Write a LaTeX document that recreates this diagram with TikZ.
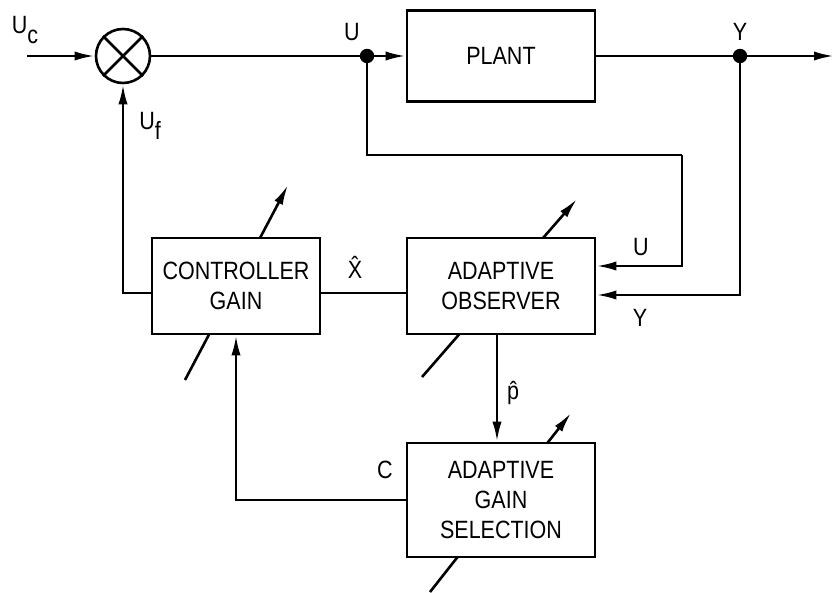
\documentclass[tikz,border=0pt]{standalone}
\usepackage{fontspec}
\setmainfont{Liberation Sans}[FakeStretch=0.86]
\usetikzlibrary{arrows.meta,calc}
\tikzset{
  wire/.style={black,line width=1.3pt},
  flow/.style={wire,-{Latex[length=10pt,width=4.6pt]}},
  tune/.style={flow},
  gate/.style={draw=black,line width=1.3pt,fill=white,align=center,inner sep=2pt,
               font=\fontsize{12.5}{15}\selectfont},
  summer/.style={draw=black,line width=1.3pt,circle,minimum size=27pt,inner sep=0pt},
  lab/.style={font=\fontsize{12.5}{14}\selectfont,inner sep=1pt},
}

\begin{document}
\begin{tikzpicture}[x=0.5pt,y=-0.5pt]
  \path[use as bounding box] (0,0) rectangle (834,593);

  % adjustable-gain arrows, drawn first so the blocks cover them
  \draw[tune] (185,380) -- (288,185);
  \draw[tune] (422,377) -- (577,199);
  \draw[tune] (430,592) -- (571,413);

  \node[summer] (sum) at (123,56) {};
  \draw[wire] (sum.north west) -- (sum.south east) (sum.north east) -- (sum.south west);
  \node[gate,minimum width=94pt,minimum height=45.5pt] (plant) at (501,56) {PLANT};
  \node[gate,minimum width=84pt,minimum height=48pt] (ctrl) at (236,286) {CONTROLLER\\GAIN};
  \node[gate,minimum width=94pt,minimum height=48pt] (obs) at (501,286) {ADAPTIVE\\OBSERVER};
  \node[gate,minimum width=94pt,minimum height=57pt] (sel) at (501,500) {ADAPTIVE\\GAIN\\SELECTION};

  \coordinate (uin) at (27,56);
  \coordinate (ujct) at (367,56);
  \coordinate (yjct) at (740,56);
  \coordinate (yout) at (834,56);
  \coordinate (ubend) at (682,155);

  % forward path
  \draw[flow] (uin) -- (sum);
  \draw[wire] (sum) -- (ujct);
  \draw[flow] (ujct) -- (plant);
  \draw[wire] (plant) -- (yjct);
  \draw[flow] (yjct) -- (yout);
  \fill (ujct) circle[radius=3.6pt];
  \fill (yjct) circle[radius=3.6pt];

  % measurements into the observer
  \draw[wire] (ujct) |- (ubend);
  \draw[flow] (ubend) |- ($(obs.east)+(0,-20)$);
  \draw[flow] (yjct) |- ($(obs.east)+(0,9)$);

  % feedback
  \draw[wire] ($(obs.west)+(0,7)$) -- ($(ctrl.east)+(0,7)$);
  \draw[flow] ($(ctrl.west)+(0,7)$) -| (sum.south);
  \draw[flow] ($(obs.south)+(-4,0)$) -- ($(sel.north)+(-4,0)$);
  \draw[flow] (sel.west) -| (ctrl.south);

  % signal labels
  \node[lab] (uc) at (25,30) {U\raisebox{-5pt}{c}};
  \node[lab] (uf) at (150,126) {U\raisebox{-5pt}{f}};
  \node[lab] (ulab) at (352,32) {U};
  \node[lab] (ylab) at (740,32) {Y};
  \node[lab] (uobs) at (641,247) {U};
  \node[lab] (yobs) at (640,318) {Y};
  \node[lab] (xhat) at (355,267) {\^{X}};
  \node[lab] (phat) at (513,393) {\^{p}};
  \node[lab] (clab) at (385,470) {C};
\end{tikzpicture}
\end{document}
